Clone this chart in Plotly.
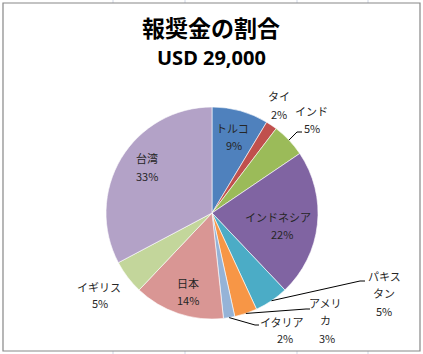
import math
import plotly.graph_objects as go

# ---- data ----
countries = ["トルコ", "タイ", "インド", "インドネシア", "パキスタン", "アメリカ", "イタリア", "日本", "イギリス", "台湾"]
amounts = [2500, 500, 1500, 6500, 1500, 1000, 500, 4000, 1500, 9500]
title_text = "報奨金の割合"
subtitle_text = "USD 29,000"

# ---- styles ----
colors = ["#4F81BD", "#C0504D", "#9BBB59", "#8064A2", "#4BACC6", "#F79646",
          "#95B3D7", "#D99694", "#C3D69B", "#B3A2C7"]

W, H = 423, 354
CX, CY, R = 212, 213, 106

# label layout (pixel centres of name line(s) and percent line), leader-line end (None = no line)
label_layout = {
    "トルコ":      (["トルコ"], (232, 128), (234, 145), None),
    "タイ":        (["タイ"], (279, 96), (279, 114), None),
    "インド":      (["インド"], (311, 111), (312, 128), [(297, 132), (302, 132)]),
    "インドネシア": (["インドネシア"], (278, 217), (282, 234), None),
    "パキスタン":  (["パキス", "タン"], (384, 276), (384, 311), [(360, 281), (365, 281)]),
    "アメリカ":    (["アメリ", "カ"], (325, 303), (327, 338), [(306, 309), (310, 309)]),
    "イタリア":    (["イタリア"], (282, 322), (285, 338), [(255, 325), (259, 325)]),
    "日本":        (["日本"], (188, 283), (188, 300), None),
    "イギリス":    (["イギリス"], (99, 287), (100, 303), None),
    "台湾":        (["台湾"], (147, 158), (147, 176), None),
}

def px(x):
    return x / W

def py(y):
    return 1 - y / H

fig = go.Figure(go.Pie(
    labels=countries,
    values=amounts,
    sort=False,
    direction="clockwise",
    rotation=0,
    marker=dict(colors=colors, line=dict(color="white", width=0.6)),
    textinfo="none",
    hoverinfo="label+percent",
    domain=dict(x=[px(CX - R), px(CX + R)], y=[py(CY + R), py(CY - R)]),
    showlegend=False,
))

total = sum(amounts)
annotations = []
shapes = []
font = dict(family="Noto Sans CJK JP", size=11, color="#262626")

cum = 0
for name, val in zip(countries, amounts):
    mid = (cum + val / 2) / total * 2 * math.pi
    cum += val
    pct = f"{round(val / total * 100)}%"
    lines, name_pos, pct_pos, leader = label_layout[name]
    for i, ln in enumerate(lines):
        annotations.append(dict(x=px(name_pos[0]), y=py(name_pos[1] + i * 17), xref="paper", yref="paper",
                                text=ln, showarrow=False, xanchor="center", yanchor="middle", font=font))
    annotations.append(dict(x=px(pct_pos[0]), y=py(pct_pos[1]), xref="paper", yref="paper",
                            text=pct, showarrow=False, xanchor="center", yanchor="middle", font=font))
    if leader:
        sx = CX + R * math.sin(mid)
        sy = CY - R * math.cos(mid)
        pts = [(sx, sy)] + leader
        path = "M " + " L ".join(f"{px(a)},{py(b)}" for a, b in pts)
        shapes.append(dict(type="path", xref="paper", yref="paper", path=path,
                           line=dict(color="#000000", width=1)))

annotations.append(dict(x=px(211), y=py(27), xref="paper", yref="paper", text=f"<b>{title_text}</b>",
                        showarrow=False, xanchor="center", yanchor="middle",
                        font=dict(family="Noto Sans CJK JP", size=23, color="#000000")))
annotations.append(dict(x=px(211), y=py(58), xref="paper", yref="paper", text=f"<b>{subtitle_text}</b>",
                        showarrow=False, xanchor="center", yanchor="middle",
                        font=dict(family="Noto Sans", size=20, color="#000000")))

# spreadsheet gridlines outside the chart and chart border
for gx in [113, 185, 297, 368]:
    shapes.append(dict(type="line", xref="paper", yref="paper", x0=px(gx), x1=px(gx), y0=py(0), y1=py(3),
                       line=dict(color="#D0D7E5", width=1)))
    shapes.append(dict(type="line", xref="paper", yref="paper", x0=px(gx), x1=px(gx), y0=py(351), y1=py(354),
                       line=dict(color="#D0D7E5", width=1)))
shapes.append(dict(type="rect", xref="paper", yref="paper", x0=px(3), x1=px(420), y0=py(351), y1=py(3),
                   line=dict(color="#878787", width=1.2)))

fig.update_layout(
    width=W, height=H,
    margin=dict(l=0, r=0, t=0, b=0),
    paper_bgcolor="white",
    plot_bgcolor="white",
    annotations=annotations,
    shapes=shapes,
)

fig.write_html("out.html")
